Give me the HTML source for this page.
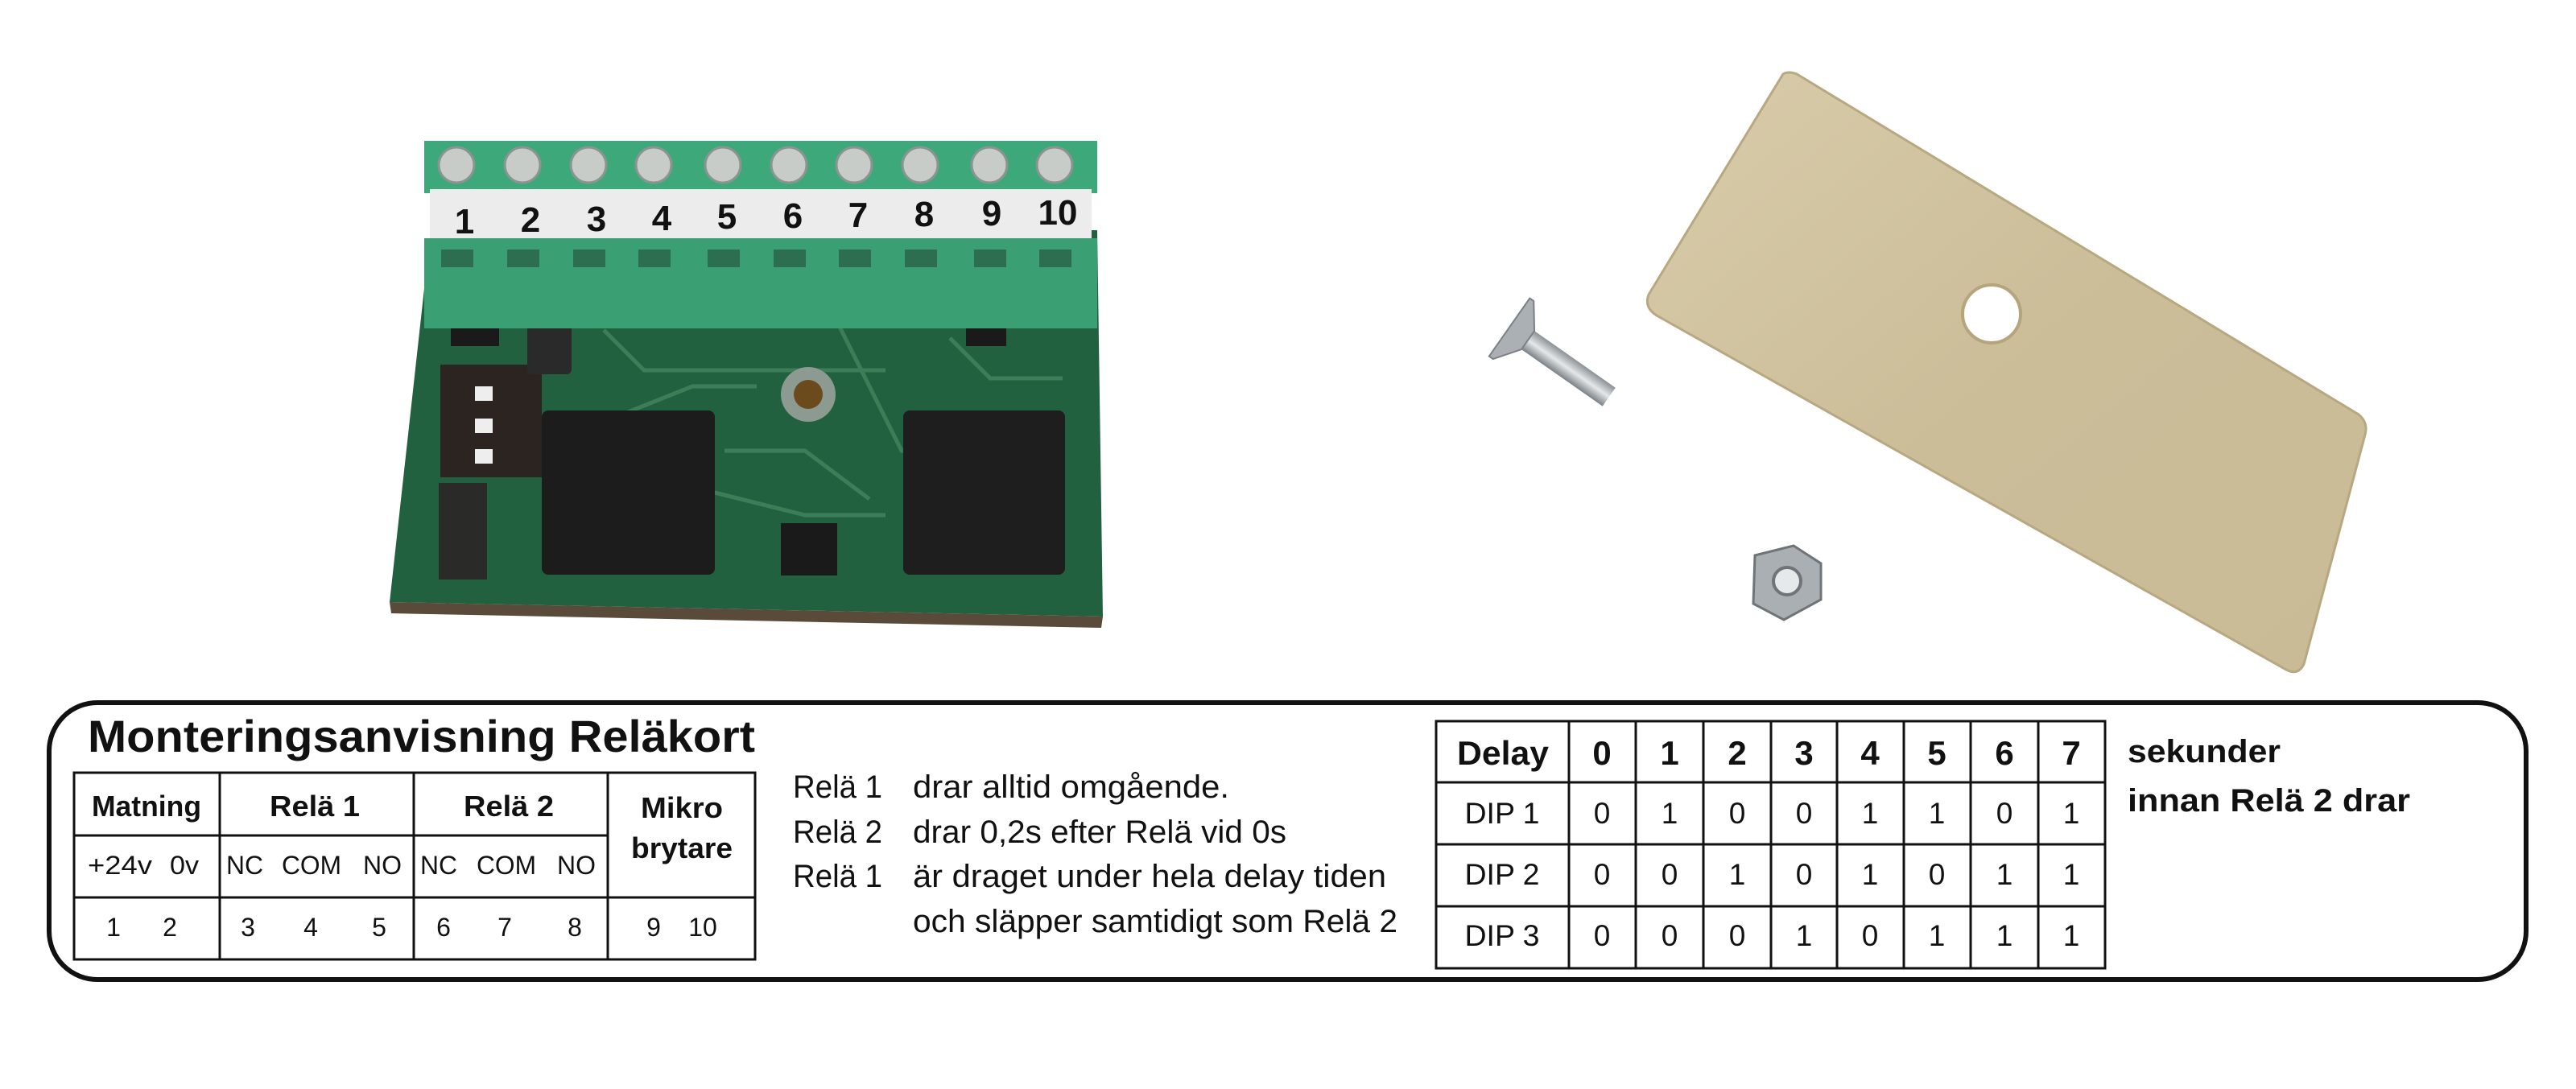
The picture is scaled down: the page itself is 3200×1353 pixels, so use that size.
<!DOCTYPE html>
<html><head><meta charset="utf-8"><style>
html,body{margin:0;padding:0;background:#fff;}
svg{display:block;}
text{font-family:"Liberation Sans Narrow","Liberation Sans",sans-serif;fill:#111;}
</style></head><body>
<svg width="3200" height="1353" viewBox="0 0 3200 1353" xmlns="http://www.w3.org/2000/svg">
<defs>
<linearGradient id="pl" x1="0" y1="0" x2="1" y2="1">
<stop offset="0" stop-color="#d9ccaa"/><stop offset="0.5" stop-color="#cbbd98"/><stop offset="1" stop-color="#c9bb96"/></linearGradient>
<linearGradient id="scr" x1="0" y1="0" x2="0" y2="1"><stop offset="0" stop-color="#8a9096"/><stop offset="0.5" stop-color="#e4e8ea"/><stop offset="1" stop-color="#7a8086"/></linearGradient>
</defs>
<!-- PCB -->
<polygon points="535,286 1363,286 1370,766 484,748" fill="#22613f"/>
<polygon points="484,748 1370,766 1368,780 486,762" fill="#5a4a3a"/>
<g stroke="#3d7d58" stroke-width="5" fill="none">
<path d="M1180,420 L1230,470 L1320,470"/><path d="M750,410 L800,460 L1100,460"/>
<path d="M760,520 L860,480 L940,480"/><path d="M900,560 L1000,560 L1080,620"/>
<path d="M1040,400 L1120,560 L1180,560"/><path d="M880,610 L1000,640 L1100,640"/>
</g>
<rect x="547" y="453" width="126" height="140" fill="#2b2420"/>
<rect x="590" y="480" width="22" height="18" fill="#eee"/><rect x="590" y="520" width="22" height="18" fill="#eee"/><rect x="590" y="558" width="22" height="18" fill="#eee"/>
<rect x="545" y="600" width="60" height="120" fill="#2a2a28"/>
<rect x="560" y="360" width="60" height="70" fill="#1a1a1a"/>
<rect x="655" y="390" width="55" height="75" fill="#2a2a2a" rx="6"/>
<rect x="673" y="510" width="215" height="204" fill="#1c1c1c" rx="8"/>
<rect x="1122" y="510" width="201" height="204" fill="#1e1e1e" rx="8"/>
<rect x="970" y="650" width="70" height="65" fill="#1a1a1a"/>
<rect x="1200" y="375" width="50" height="55" fill="#1a1a1a"/>
<rect x="1290" y="345" width="40" height="38" fill="#8a7556"/>
<circle cx="1004" cy="490" r="34" fill="#8c9a92"/><circle cx="1004" cy="490" r="18" fill="#6b4a1c"/>
<!-- terminal block -->
<rect x="527" y="175" width="836" height="65" fill="#3da97a"/>
<rect x="534" y="235" width="822" height="62" fill="#ececec"/>
<rect x="527" y="296" width="836" height="112" fill="#3a9f72"/>
<g fill="#c8ccc8" stroke="#8a9490" stroke-width="3">
<circle cx="567" cy="205" r="22"/><circle cx="649" cy="205" r="22"/><circle cx="731" cy="205" r="22"/><circle cx="812" cy="205" r="22"/><circle cx="898" cy="205" r="22"/><circle cx="980" cy="205" r="22"/><circle cx="1061" cy="205" r="22"/><circle cx="1143" cy="205" r="22"/><circle cx="1229" cy="205" r="22"/><circle cx="1310" cy="205" r="22"/>
</g>
<g fill="#2c6e4f">
<rect x="548" y="310" width="40" height="22"/><rect x="630" y="310" width="40" height="22"/><rect x="712" y="310" width="40" height="22"/><rect x="793" y="310" width="40" height="22"/><rect x="879" y="310" width="40" height="22"/><rect x="961" y="310" width="40" height="22"/><rect x="1042" y="310" width="40" height="22"/><rect x="1124" y="310" width="40" height="22"/><rect x="1210" y="310" width="40" height="22"/><rect x="1291" y="310" width="40" height="22"/>
</g>
<g font-size="44" font-weight="bold" text-anchor="middle" style="font-family:'DejaVu Sans','Liberation Sans',sans-serif">
<text x="577" y="290">1</text><text x="659" y="288">2</text><text x="741" y="287">3</text><text x="822" y="286">4</text><text x="903" y="284">5</text><text x="985" y="283">6</text><text x="1066" y="282">7</text><text x="1148" y="281">8</text><text x="1232" y="280">9</text><text x="1314" y="279">10</text>
</g>
<!-- plate -->
<path d="M2215,92 Q2222,88 2232,92 L2930,515 Q2942,525 2938,540 L2862,825 Q2855,840 2840,832 L2058,392 Q2042,382 2048,366 Z" fill="url(#pl)" stroke="#b8a882" stroke-width="3"/>
<circle cx="2474" cy="390" r="36" fill="#fff" stroke="#b5a47c" stroke-width="4"/>
<!-- screw -->
<g transform="translate(1880,410) rotate(35)">
<rect x="10" y="-14" width="135" height="28" fill="url(#scr)"/>
<polygon points="-6,-44 0,-44 22,-14 22,14 0,44 -6,44" fill="#aab0b4" stroke="#7a8086" stroke-width="2"/>
</g>
<!-- nut -->
<polygon points="2180,690 2228,678 2262,700 2262,745 2216,770 2178,750" fill="#a9afb3" stroke="#6f7478" stroke-width="3"/>
<circle cx="2220" cy="722" r="17" fill="#e6e9ea" stroke="#6f7478" stroke-width="4"/>

<!-- bottom box -->
<rect x="61" y="873" width="3077" height="344" rx="60" ry="60" fill="none" stroke="#111" stroke-width="6"/>
<text x="109" y="934" font-size="56" font-weight="bold" textLength="829" lengthAdjust="spacingAndGlyphs">Monteringsanvisning Reläkort</text>
<!-- left table -->
<g stroke="#111" stroke-width="3" fill="none">
<rect x="92" y="960" width="846" height="232"/>
<line x1="92" y1="1038" x2="755" y2="1038"/><line x1="92" y1="1115" x2="938" y2="1115"/>
<line x1="273" y1="960" x2="273" y2="1192"/><line x1="514" y1="960" x2="514" y2="1192"/><line x1="755" y1="960" x2="755" y2="1192"/>
</g>
<g font-size="36" font-weight="bold" text-anchor="middle">
<text x="182" y="1014" textLength="136" lengthAdjust="spacingAndGlyphs">Matning</text>
<text x="391" y="1014" textLength="112" lengthAdjust="spacingAndGlyphs">Relä 1</text>
<text x="632" y="1014" textLength="112" lengthAdjust="spacingAndGlyphs">Relä 2</text>
<text x="847" y="1016" textLength="102" lengthAdjust="spacingAndGlyphs">Mikro</text>
<text x="847" y="1066" textLength="126" lengthAdjust="spacingAndGlyphs">brytare</text>
</g>
<g font-size="32" text-anchor="middle">
<text x="149" y="1086" textLength="80" lengthAdjust="spacingAndGlyphs">+24v</text><text x="229" y="1086" textLength="36" lengthAdjust="spacingAndGlyphs">0v</text>
<text x="304" y="1086" textLength="46" lengthAdjust="spacingAndGlyphs">NC</text><text x="387" y="1086" textLength="74" lengthAdjust="spacingAndGlyphs">COM</text><text x="475" y="1086" textLength="48" lengthAdjust="spacingAndGlyphs">NO</text>
<text x="545" y="1086" textLength="46" lengthAdjust="spacingAndGlyphs">NC</text><text x="629" y="1086" textLength="74" lengthAdjust="spacingAndGlyphs">COM</text><text x="716" y="1086" textLength="48" lengthAdjust="spacingAndGlyphs">NO</text>
<text x="141" y="1163">1</text><text x="211" y="1163">2</text><text x="308" y="1163">3</text><text x="386" y="1163">4</text><text x="471" y="1163">5</text><text x="551" y="1163">6</text><text x="627" y="1163">7</text><text x="714" y="1163">8</text><text x="812" y="1163">9</text><text x="873" y="1163">10</text>
</g>
<!-- middle text -->
<g font-size="40">
<text x="985" y="991" textLength="111" lengthAdjust="spacingAndGlyphs">Relä 1</text>
<text x="1134" y="991" textLength="393" lengthAdjust="spacingAndGlyphs">drar alltid omgående.</text>
<text x="985" y="1047" textLength="111" lengthAdjust="spacingAndGlyphs">Relä 2</text>
<text x="1134" y="1047" textLength="464" lengthAdjust="spacingAndGlyphs">drar 0,2s efter Relä vid 0s</text>
<text x="985" y="1102" textLength="111" lengthAdjust="spacingAndGlyphs">Relä 1</text>
<text x="1134" y="1102" textLength="588" lengthAdjust="spacingAndGlyphs">är draget under hela delay tiden</text>
<text x="1134" y="1158" textLength="602" lengthAdjust="spacingAndGlyphs">och släpper samtidigt som Relä 2</text>
</g>
<!-- delay table -->
<g stroke="#111" stroke-width="3" fill="none">
<rect x="1784" y="896" width="831" height="307"/>
<line x1="1784" y1="972" x2="2615" y2="972"/><line x1="1784" y1="1049" x2="2615" y2="1049"/><line x1="1784" y1="1126" x2="2615" y2="1126"/>
<line x1="1949" y1="896" x2="1949" y2="1203"/><line x1="2032" y1="896" x2="2032" y2="1203"/><line x1="2116" y1="896" x2="2116" y2="1203"/><line x1="2200" y1="896" x2="2200" y2="1203"/><line x1="2282" y1="896" x2="2282" y2="1203"/><line x1="2365" y1="896" x2="2365" y2="1203"/><line x1="2448" y1="896" x2="2448" y2="1203"/><line x1="2532" y1="896" x2="2532" y2="1203"/>
</g>
<g font-size="42" font-weight="bold" text-anchor="middle">
<text x="1867" y="950" textLength="114" lengthAdjust="spacingAndGlyphs">Delay</text>
<text x="1990" y="950">0</text><text x="2074" y="950">1</text><text x="2158" y="950">2</text><text x="2241" y="950">3</text><text x="2323" y="950">4</text><text x="2406" y="950">5</text><text x="2490" y="950">6</text><text x="2573" y="950">7</text>
</g>
<g font-size="37" text-anchor="middle">
<text x="1866" y="1023" textLength="93" lengthAdjust="spacingAndGlyphs">DIP 1</text>
<text x="1990" y="1023">0</text><text x="2074" y="1023">1</text><text x="2158" y="1023">0</text><text x="2241" y="1023">0</text><text x="2323" y="1023">1</text><text x="2406" y="1023">1</text><text x="2490" y="1023">0</text><text x="2573" y="1023">1</text>
<text x="1866" y="1099" textLength="93" lengthAdjust="spacingAndGlyphs">DIP 2</text>
<text x="1990" y="1099">0</text><text x="2074" y="1099">0</text><text x="2158" y="1099">1</text><text x="2241" y="1099">0</text><text x="2323" y="1099">1</text><text x="2406" y="1099">0</text><text x="2490" y="1099">1</text><text x="2573" y="1099">1</text>
<text x="1866" y="1175" textLength="93" lengthAdjust="spacingAndGlyphs">DIP 3</text>
<text x="1990" y="1175">0</text><text x="2074" y="1175">0</text><text x="2158" y="1175">0</text><text x="2241" y="1175">1</text><text x="2323" y="1175">0</text><text x="2406" y="1175">1</text><text x="2490" y="1175">1</text><text x="2573" y="1175">1</text>
</g>
<g font-size="40" font-weight="bold">
<text x="2643" y="947" textLength="190" lengthAdjust="spacingAndGlyphs">sekunder</text>
<text x="2643" y="1008" textLength="351" lengthAdjust="spacingAndGlyphs">innan Relä 2 drar</text>
</g>
</svg>
</body></html>
